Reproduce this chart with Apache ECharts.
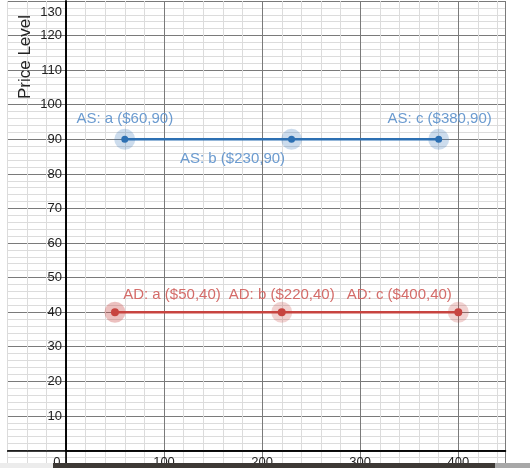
<!DOCTYPE html>
<html>
<head>
<meta charset="utf-8">
<script src="https://cdn.jsdelivr.net/npm/echarts@6/dist/echarts.min.js"></script>
<style>
  html, body { margin: 0; padding: 0; background: #fff; }
  #chart { width: 530px; height: 468px; }
</style>
</head>
<body>
<div id="chart"></div>
<script>
// points
const asPrices = [60, 230, 380];
const asLevels = [90, 90, 90];
const asNames = ["a", "b", "c"];
const adPrices = [50, 220, 400];
const adLevels = [40, 40, 40];
const adNames = ["a", "b", "c"];

// label placement (pixels, relative to the point)
const asOffsets = [[0, -20], [-59, 20], [1, -20]];
const adOffsets = [[57, -17], [0, -17], [-59, -17]];

const blue = "#2d70b3";
const red = "#c74440";
const font = "Arial, 'Liberation Sans', sans-serif";

function buildPoints(prices, levels, names, tag, offsets) {
  return prices.map((p, i) => ({
    value: [p, levels[i]],
    name: tag + ": " + names[i] + " ($" + p + "," + levels[i] + ")",
    label: { offset: offsets[i] },
  }));
}

const chart = echarts.init(document.getElementById("chart"));

const labelFont = {
  show: true,
  position: "inside",
  formatter: (p) => p.name,
  fontFamily: font,
  fontSize: 15,
  align: "center",
  verticalAlign: "middle",
};

const majorLine = { show: true, lineStyle: { color: "#7a7a7a", width: 1 } };
const minorLine = { show: true, lineStyle: { color: "#dcdcdc", width: 1 } };
const axisBlack = { onZero: true, lineStyle: { color: "#000", width: 1.6 } };

const option = {
  animation: false,
  backgroundColor: "#fff",
  grid: [
    // graph paper, reaching past the left edge
    { left: -32, right: 24.6, top: 1, bottom: -17, containLabel: false, outerBoundsMode: "none" },
    // first quadrant, where the axis labels and the data live
    { left: 65.9, right: 24.6, top: 1, bottom: 17.4, containLabel: false, outerBoundsMode: "none" },
  ],
  xAxis: [
    {
      gridIndex: 0,
      type: "value",
      min: -100,
      max: 448,
      interval: 100,
      axisLine: axisBlack,
      axisTick: { show: false },
      axisLabel: { show: false },
      splitLine: majorLine,
      minorTick: { show: false, splitNumber: 5 },
      minorSplitLine: minorLine,
    },
    {
      gridIndex: 1,
      type: "value",
      min: 0,
      max: 448,
      interval: 100,
      axisLine: { onZero: false, lineStyle: { color: "#000", width: 1.6 } },
      axisTick: { show: false },
      splitLine: { show: false },
      axisLabel: {
        margin: 5,
        color: "#222",
        fontSize: 13,
        fontFamily: font,
        showMinLabel: true,
        showMaxLabel: false,
        formatter: (v) => (v === 0 ? "{z|0}" : v % 100 === 0 ? String(v) : ""),
        rich: { z: { padding: [0, 18, 0, 0], fontSize: 13, color: "#222", fontFamily: font } },
      },
    },
  ],
  yAxis: [
    {
      gridIndex: 0,
      type: "value",
      min: -10,
      max: 130,
      interval: 10,
      axisLine: axisBlack,
      axisTick: { show: false },
      axisLabel: { show: false },
      splitLine: majorLine,
      minorTick: { show: false, splitNumber: 5 },
      minorSplitLine: minorLine,
    },
    {
      gridIndex: 1,
      type: "value",
      min: 0,
      max: 130,
      interval: 10,
      axisLine: { onZero: false, lineStyle: { color: "#000", width: 1.6 } },
      axisTick: { show: false },
      splitLine: { show: false },
      axisLabel: {
        margin: 4,
        color: "#222",
        fontSize: 13,
        fontFamily: font,
        showMaxLabel: true,
        formatter: (v) => (v === 0 ? "" : v === 130 ? "{t|130}" : String(v)),
        rich: { t: { padding: [22, 0, 0, 0], fontSize: 13, color: "#222", fontFamily: font } },
      },
    },
  ],
  series: [
    {
      type: "scatter",
      xAxisIndex: 1,
      yAxisIndex: 1,
      silent: true,
      symbolSize: 21,
      itemStyle: { color: "rgba(45,112,179,0.3)" },
      data: asPrices.map((p, i) => [p, asLevels[i]]),
      z: 3,
    },
    {
      type: "scatter",
      xAxisIndex: 1,
      yAxisIndex: 1,
      silent: true,
      symbolSize: 21,
      itemStyle: { color: "rgba(199,68,64,0.3)" },
      data: adPrices.map((p, i) =>
        i === 0
          ? { value: [p, adLevels[i]], itemStyle: { color: "rgba(199,68,64,0.42)" } }
          : [p, adLevels[i]]
      ),
      z: 3,
    },
    {
      name: "AS",
      type: "line",
      xAxisIndex: 1,
      yAxisIndex: 1,
      symbol: "circle",
      symbolSize: 7,
      silent: true,
      lineStyle: { color: blue, width: 2.5 },
      itemStyle: { color: blue },
      label: Object.assign({}, labelFont, { color: "#6b9bd0" }),
      data: buildPoints(asPrices, asLevels, asNames, "AS", asOffsets),
      z: 4,
    },
    {
      name: "AD",
      type: "line",
      xAxisIndex: 1,
      yAxisIndex: 1,
      symbol: "circle",
      symbolSize: 8,
      silent: true,
      lineStyle: { color: red, width: 2.5 },
      itemStyle: { color: red },
      label: Object.assign({}, labelFont, { color: "#d46c69" }),
      data: buildPoints(adPrices, adLevels, adNames, "AD", adOffsets),
      z: 4,
    },
  ],
  graphic: [
    // blank margin left of the graph paper
    { type: "rect", z: 100, shape: { x: 0, y: 0, width: 7, height: 468 }, style: { fill: "#fff" } },
    {
      type: "text",
      z: 101,
      x: 25,
      y: 57,
      rotation: Math.PI / 2,
      style: {
        text: "Price Level",
        fontSize: 17,
        fontFamily: font,
        fill: "#222",
        align: "center",
        verticalAlign: "middle",
      },
    },
    // browser scrollbar strip at the bottom
    { type: "rect", z: 100, shape: { x: 0, y: 463, width: 53, height: 5 }, style: { fill: "#ececec" } },
    { type: "rect", z: 100, shape: { x: 53, y: 463, width: 442, height: 5 }, style: { fill: "#3d3935" } },
    { type: "rect", z: 100, shape: { x: 495, y: 463, width: 35, height: 5 }, style: { fill: "#a8a8a8" } },
  ],
};

chart.setOption(option);
</script>
</body>
</html>
